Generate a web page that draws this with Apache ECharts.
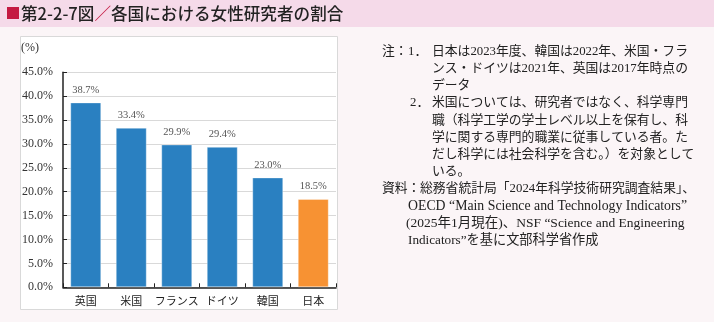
<!DOCTYPE html>
<html><head><meta charset="utf-8">
<script src="https://cdn.jsdelivr.net/npm/echarts@6/dist/echarts.min.js"></script>
<style>html,body{margin:0;padding:0;background:#fbf5f7;}#c{width:714px;height:322px;}</style>
</head><body><div id="c"></div>
<script>
const categories = ['英国', '米国', 'フランス', 'ドイツ', '韓国', '日本'];
const values = [38.7, 33.4, 29.9, 29.4, 23.0, 18.5];
const barColors = ['#2a80c1', '#2a80c1', '#2a80c1', '#2a80c1', '#2a80c1', '#f79233'];
const yMin = 0, yMax = 45, yStep = 5;

const titleMain = '第2-2-7図';
const titleSub = '各国における女性研究者の割合';
const noteLines = [
  '日本は2023年度、韓国は2022年、米国・フラ',
  'ンス・ドイツは2021年、英国は2017年時点の',
  'データ',
  '米国については、研究者ではなく、科学専門',
  '職（科学工学の学士レベル以上を保有し、科',
  '学に関する専門的職業に従事している者。た',
  'だし科学には社会科学を含む。）を対象として',
  'いる。'
];
const sourceLines = [
  '総務省統計局「2024年科学技術研究調査結果」、',
  'OECD “Main Science and Technology Indicators”',
  '(2025年1月現在)、NSF “Science and Engineering',
  'Indicators”を基に文部科学省作成'
];

const SERIF = "'Liberation Serif', 'Noto Sans CJK JP', serif";
const JP = "'Noto Sans CJK JP', sans-serif";
const noteFont = 12.8, lineH = 17.2, y0 = 51.5;

const graphics = [
  {type:'rect', shape:{x:0,y:0,width:714,height:27}, style:{fill:'#f5dae9'}, silent:true, z:-10},
  {type:'rect', shape:{x:7,y:7,width:12,height:12}, style:{fill:'#c41a42'}},
  {type:'text', x:21, y:14, style:{
    text:'{a|' + titleMain + '}{s|／}{a|' + titleSub + '}',
    verticalAlign:'middle',
    rich:{
      a:{fontFamily:JP, fontSize:16.6, fontWeight:500, fill:'#222'},
      s:{fontFamily:JP, fontSize:16.6, fontWeight:500, fill:'#c41a42'}
    }}},
  {type:'rect', shape:{x:20.5,y:36.5,width:317,height:273}, style:{fill:'#ffffff', stroke:'#d9d9d9', lineWidth:1}, z:-5},
  {type:'text', x:21, y:48, style:{text:'(%)', fontFamily:SERIF, fontSize:12, fill:'#333', verticalAlign:'middle'}}
];

function addLine(x, idx, txt, fs){
  graphics.push({type:'text', x:x, y:y0 + idx*lineH, style:{text:txt, fontFamily:SERIF, fontSize:fs || noteFont, fill:'#222', verticalAlign:'middle'}});
}
addLine(382, 0, '注：');
addLine(408, 0, '1．');
addLine(410, 3, '2．');
noteLines.forEach((t,i)=>addLine(432, i, t));
addLine(382, 8, '資料：');
addLine(420, 8, sourceLines[0]);
addLine(408, 9, sourceLines[1], 13.8);
addLine(406, 10, sourceLines[2], 13.5);
addLine(408, 11, sourceLines[3], 13.2);

const chart = echarts.init(document.getElementById('c'), null, {renderer:'canvas'});
chart.setOption({
  backgroundColor:'transparent',
  animation:false,
  graphic: graphics,
  grid:{left:63, right:378, top:72.3, bottom:34.7, containLabel:false},
  xAxis:{
    type:'category', data:categories,
    axisLine:{show:true, lineStyle:{color:'#222', width:1.5}},
    axisTick:{show:true, inside:true, length:4, lineStyle:{color:'#222'}},
    axisLabel:{fontFamily:JP, fontSize:11, color:'#222', margin:8, interval:0}
  },
  yAxis:{
    type:'value', min:yMin, max:yMax, interval:yStep,
    axisLine:{show:true, lineStyle:{color:'#222', width:1.5}},
    axisTick:{show:true, inside:true, length:4, lineStyle:{color:'#222'}},
    axisLabel:{fontFamily:SERIF, fontSize:12, color:'#333', margin:10,
      formatter:v=>v.toFixed(1)+'%'},
    splitLine:{show:true, lineStyle:{color:'#d9d9d9', width:1}}
  },
  series:[{
    type:'bar', barWidth:31,
    data: values.map((v,i)=>({value:v, itemStyle:{color:barColors[i]}})),
    itemStyle:{borderColor:'rgba(255,255,255,0.35)', borderWidth:1},
    label:{show:true, position:'top', distance:7, fontFamily:SERIF, fontSize:10.5, color:'#555',
      formatter:p=>p.value.toFixed(1)+'%'}
  }]
});
</script></body></html>
